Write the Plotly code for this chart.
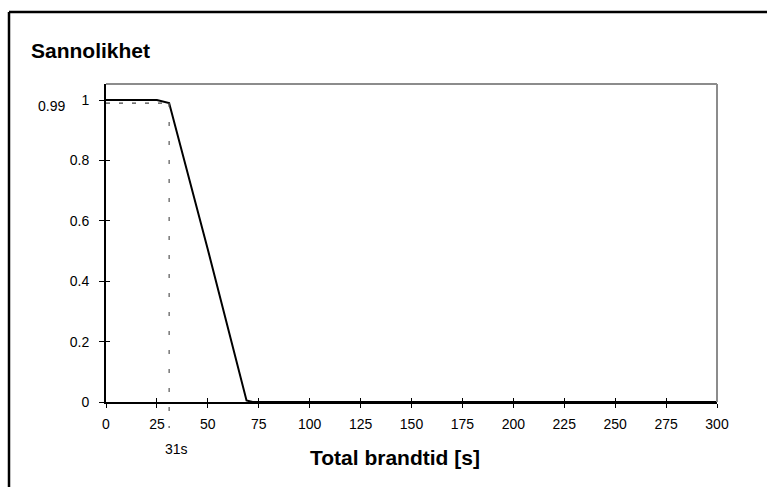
import plotly.graph_objects as go

# Probability of the fire still burning versus total burn time
burn_time = [0, 25, 31, 50, 69, 72, 300]
probability = [1.0, 1.0, 0.99, 0.505, 0.005, 0.0, 0.0]

x_ticks = list(range(0, 301, 25))
y_ticks = [0, 0.2, 0.4, 0.6, 0.8, 1]
y_tick_text = ["0", "0.2", "0.4", "0.6", "0.8", "1"]

marker_time = 31
marker_prob = 0.99

X_RANGE = [0, 300]
Y_RANGE = [0, 1.053]

W, H = 767, 487
L, R, T, B = 106, 50, 84, 85
PW, PH = W - L - R, H - T - B


def px_x(px):
    return (px - L) / PW


def px_y(py):
    return (H - B - py) / PH


def data_x(v):
    return (v - X_RANGE[0]) / (X_RANGE[1] - X_RANGE[0])


def data_y(v):
    return (v - Y_RANGE[0]) / (Y_RANGE[1] - Y_RANGE[0])


FONT = "Liberation Sans, Arial, sans-serif"

fig = go.Figure()
fig.add_trace(go.Scatter(
    x=burn_time, y=probability, mode="lines",
    line=dict(color="black", width=2), hoverinfo="skip", showlegend=False,
))
# invisible copy that anchors the inner-tick overlay axes
fig.add_trace(go.Scatter(
    x=burn_time, y=probability, mode="lines", xaxis="x2", yaxis="y2",
    line=dict(color="rgba(0,0,0,0)", width=0), hoverinfo="skip", showlegend=False,
))

shapes = [
    # gray plot-area border (top and right)
    dict(type="line", xref="paper", yref="paper", x0=0, x1=1, y0=1, y1=1,
         line=dict(color="#8c8c8c", width=2)),
    dict(type="line", xref="paper", yref="paper", x0=1, x1=1, y0=0, y1=1,
         line=dict(color="#8c8c8c", width=2)),
    # outer chart frame (left and top)
    dict(type="line", xref="paper", yref="paper", x0=px_x(9), x1=px_x(9),
         y0=px_y(12), y1=px_y(H + 20), line=dict(color="black", width=2.5)),
    dict(type="line", xref="paper", yref="paper", x0=px_x(9), x1=px_x(W + 20),
         y0=px_y(12), y1=px_y(12), line=dict(color="black", width=2.5)),
    # dashed guide at 0.99
    dict(type="line", xref="paper", yref="paper", x0=data_x(0), x1=data_x(marker_time),
         y0=data_y(marker_prob), y1=data_y(marker_prob),
         line=dict(color="#444444", width=1.2, dash="4px,9px")),
    # dotted guide at 31 s, running below the axis
    dict(type="line", xref="paper", yref="paper", x0=data_x(marker_time), x1=data_x(marker_time),
         y0=data_y(marker_prob), y1=px_y(428),
         line=dict(color="#555555", width=1.2, dash="4px,15px")),
]

annotations = [
    dict(text="<b>Sannolikhet</b>", xref="paper", yref="paper", x=px_x(29), y=px_y(50),
         xanchor="left", yanchor="middle", showarrow=False,
         font=dict(family=FONT, size=21, color="black")),
    dict(text="<b>Total brandtid [s]</b>", xref="paper", yref="paper", x=px_x(395), y=px_y(457),
         xanchor="center", yanchor="middle", showarrow=False,
         font=dict(family=FONT, size=21, color="black")),
    dict(text=f"{marker_prob}", xref="paper", yref="paper", x=px_x(67), y=data_y(marker_prob),
         yshift=-3, xanchor="right", yanchor="middle", showarrow=False,
         font=dict(family=FONT, size=14, color="black")),
    dict(text=f"{marker_time}s", xref="paper", yref="paper", x=data_x(marker_time), y=px_y(449),
         xshift=7, xanchor="center", yanchor="middle", showarrow=False,
         font=dict(family=FONT, size=14, color="black")),
]

tick_font = dict(family=FONT, size=14, color="black")

fig.update_layout(
    width=W, height=H,
    margin=dict(l=L, r=R, t=T, b=B, pad=0),
    paper_bgcolor="white", plot_bgcolor="white",
    showlegend=False,
    xaxis=dict(
        range=X_RANGE, tickvals=x_ticks, ticks="outside", ticklen=4, tickwidth=1,
        tickcolor="black", showline=True, linecolor="black", linewidth=2,
        showgrid=False, zeroline=False, tickfont=tick_font, ticklabelstandoff=4,
        fixedrange=True,
    ),
    yaxis=dict(
        range=Y_RANGE, tickvals=y_ticks, ticktext=y_tick_text, ticks="outside",
        ticklen=5, tickwidth=1, tickcolor="black", showline=True, linecolor="black",
        linewidth=2, showgrid=False, zeroline=False, tickfont=tick_font,
        ticklabelstandoff=7, fixedrange=True,
    ),
    xaxis2=dict(
        range=X_RANGE, tickvals=x_ticks, overlaying="x", anchor="y", side="bottom",
        ticks="inside", ticklen=4, tickwidth=1, tickcolor="black",
        showticklabels=False, showline=False, showgrid=False, zeroline=False,
        fixedrange=True,
    ),
    yaxis2=dict(
        range=Y_RANGE, tickvals=y_ticks, overlaying="y", anchor="x", side="left",
        ticks="inside", ticklen=4, tickwidth=1, tickcolor="black",
        showticklabels=False, showline=False, showgrid=False, zeroline=False,
        fixedrange=True,
    ),
    shapes=shapes,
    annotations=annotations,
)

fig.write_html("out.html")
